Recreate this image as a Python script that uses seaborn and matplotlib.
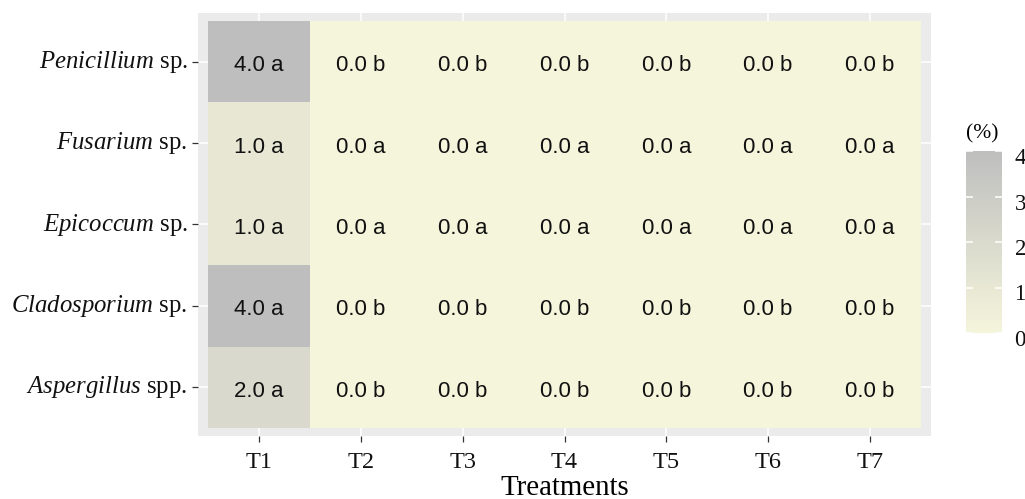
import numpy as np
import pandas as pd
import matplotlib
matplotlib.use("Agg")
import matplotlib.pyplot as plt
from matplotlib.colors import LinearSegmentedColormap
from matplotlib.transforms import ScaledTranslation
import seaborn as sns

# Fungal genera (rows, top to bottom) and treatments (columns)
genera = ["Penicillium", "Fusarium", "Epicoccum", "Cladosporium", "Aspergillus"]
suffixes = ["sp.", "sp.", "sp.", "sp.", "spp."]
treatments = ["T1", "T2", "T3", "T4", "T5", "T6", "T7"]

# Incidence (%) per genus and treatment
penicillium = [4.0, 0.0, 0.0, 0.0, 0.0, 0.0, 0.0]
fusarium = [1.0, 0.0, 0.0, 0.0, 0.0, 0.0, 0.0]
epicoccum = [1.0, 0.0, 0.0, 0.0, 0.0, 0.0, 0.0]
cladosporium = [4.0, 0.0, 0.0, 0.0, 0.0, 0.0, 0.0]
aspergillus = [2.0, 0.0, 0.0, 0.0, 0.0, 0.0, 0.0]

# Mean separation letters
letters_penicillium = ["a", "b", "b", "b", "b", "b", "b"]
letters_fusarium = ["a", "a", "a", "a", "a", "a", "a"]
letters_epicoccum = ["a", "a", "a", "a", "a", "a", "a"]
letters_cladosporium = ["a", "b", "b", "b", "b", "b", "b"]
letters_aspergillus = ["a", "b", "b", "b", "b", "b", "b"]

legend_ticks = [0, 1, 2, 3, 4]

values = np.array([penicillium, fusarium, epicoccum, cladosporium, aspergillus])
letters = np.array([letters_penicillium, letters_fusarium, letters_epicoccum,
                    letters_cladosporium, letters_aspergillus])
row_labels = [rf"$\mathit{{{g}}}$ {s}" for g, s in zip(genera, suffixes)]
df = pd.DataFrame(values, index=row_labels, columns=treatments)
annot = np.array([[f"{v:.1f} {l}" for v, l in zip(rv, rl)]
                  for rv, rl in zip(values, letters)])

plt.rcParams["font.family"] = ["Liberation Serif", "DejaVu Serif"]
plt.rcParams["mathtext.fontset"] = "custom"
plt.rcParams["mathtext.rm"] = "Liberation Serif"
plt.rcParams["mathtext.it"] = "Liberation Serif:italic"

cmap = LinearSegmentedColormap.from_list("beige_gray", ["#F5F5DC", "#BEBEBE"])

W, H = 1025, 499
fig = plt.figure(figsize=(W / 100, H / 100), dpi=100)
ax = fig.add_axes([198 / W, (H - 436) / H, (931 - 198) / W, (436 - 13) / H])
cax = fig.add_axes([966 / W, (H - 333) / H, 36 / W, 182 / H])

sns.heatmap(df, ax=ax, cbar_ax=cax, cmap=cmap, vmin=0, vmax=4,
            annot=annot, fmt="", linewidths=0,
            annot_kws={"family": "Liberation Sans", "fontsize": 16, "color": "#111111"},
            cbar_kws={"ticks": legend_ticks})

# Nudge cell labels slightly below the cell centre
down = ScaledTranslation(0, -4 / 100, fig.dpi_scale_trans)
for t in ax.texts:
    t.set_transform(t.get_transform() + down)

# Panel styling
ax.set_facecolor("#EBEBEB")
ax.set_axisbelow(True)
ax.grid(True, color="white", linewidth=1.1)
ax.set_xlim(-0.1, len(treatments) + 0.1)
ax.set_ylim(len(genera) + 0.1, -0.1)
for s in ax.spines.values():
    s.set_visible(False)
ax.tick_params(axis="both", length=4.5, width=0.9, color="#333333",
               labelcolor="#111111", pad=3)
ax.tick_params(axis="x", labelsize=17.5, pad=7)
ax.tick_params(axis="y", labelsize=17.8)
ax.set_yticklabels(row_labels, rotation=0)
ax.set_xticklabels(treatments, rotation=0)
ax.set_ylabel("")
ax.set_xlabel("Treatments", fontsize=20.8, color="black")
ax.xaxis.set_label_coords(0.5, -0.092)

# Colour bar styling
cb = ax.collections[0].colorbar
cb.outline.set_visible(False)
cax.tick_params(length=0, labelsize=16.5, pad=9, labelcolor="#111111")
for lbl in cax.get_yticklabels():
    lbl.set_transform(lbl.get_transform() + ScaledTranslation(0, -5 / 100, fig.dpi_scale_trans))
for t in legend_ticks:
    cax.hlines(t, 0, 0.2, color="white", linewidth=1.1, transform=cax.get_yaxis_transform())
    cax.hlines(t, 0.8, 1, color="white", linewidth=1.1, transform=cax.get_yaxis_transform())
cax.set_title("(%)", fontsize=15.5, loc="left", pad=9)

fig.savefig("out.png", dpi=100)
